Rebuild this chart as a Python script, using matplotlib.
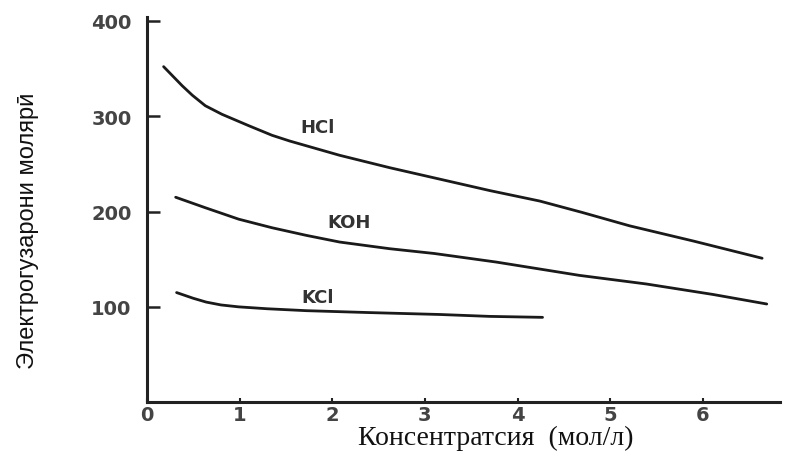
import matplotlib.pyplot as plt

# concentration (mol/L) and molar conductivity
hcl_x = [0.18, 0.27, 0.38, 0.49, 0.63, 0.81, 1.10, 1.35, 1.54, 2.08, 2.62, 3.16,
         3.70, 4.24, 4.70, 5.21, 5.90, 6.64]
hcl_y = [352, 343, 332, 322, 311, 302, 290, 280, 274, 259, 246, 234,
         222, 211, 199, 185, 169, 151]

koh_x = [0.31, 0.63, 0.99, 1.35, 1.72, 2.08, 2.62, 3.10, 3.77, 4.67, 5.39, 6.11, 6.69]
koh_y = [215, 204, 192, 183, 175, 168, 161, 156, 147, 133, 124, 113, 103]

kcl_x = [0.32, 0.50, 0.64, 0.80, 0.99, 1.30, 1.72, 2.40, 3.16, 3.70, 4.27]
kcl_y = [115, 109, 105, 102, 100, 98, 96, 94, 92, 90, 89]

curve_labels = ["HCl", "KOH", "KCl"]
label_x = [1.84, 2.18, 1.84]
label_y = [289, 189, 110]

x_ticks = [0, 1, 2, 3, 4, 5, 6]
y_ticks = [100, 200, 300, 400]

fig = plt.figure(figsize=(7.9, 4.52), dpi=100)
ax = fig.add_axes([0.186, 0.108, 0.801, 0.852])

for xs, ys in [(hcl_x, hcl_y), (koh_x, koh_y), (kcl_x, kcl_y)]:
    ax.plot(xs, ys, color="#1a1a1a", lw=2.0, solid_capstyle="round",
            solid_joinstyle="round")

for name, lx, ly in zip(curve_labels, label_x, label_y):
    ax.text(lx, ly, name, fontsize=13, fontweight="bold", color="#333333",
            ha="center", va="center")

ax.set_xlim(0, 6.83)
ax.set_ylim(0, 404)
ax.set_xticks(x_ticks)
ax.set_yticks(y_ticks)
ax.set_xticklabels([str(t) for t in x_ticks])
ax.set_yticklabels([str(t) for t in y_ticks])

for side in ["top", "right"]:
    ax.spines[side].set_visible(False)
for side in ["left", "bottom"]:
    ax.spines[side].set_linewidth(2.2)
    ax.spines[side].set_color("#222222")

ax.tick_params(axis="y", direction="in", length=9, width=1.8, pad=11,
               labelsize=14, labelcolor="#444444", color="#222222")
ax.tick_params(axis="x", direction="in", length=3, width=1.5, pad=2,
               labelsize=14, labelcolor="#444444", color="#222222")
for lab in ax.get_xticklabels() + ax.get_yticklabels():
    lab.set_fontweight("bold")

fig.text(0.036, 0.49, "Электрогузарони молярӣ", rotation=90, ha="center", va="center",
         fontsize=17, family=["Liberation Sans", "DejaVu Sans"], color="#111111")
fig.text(0.628, 0.058, "Консентратсия  (мол/л)", ha="center", va="top",
         fontsize=20, family=["Liberation Serif", "DejaVu Serif"], color="#111111")

fig.savefig("out.png", dpi=100)
